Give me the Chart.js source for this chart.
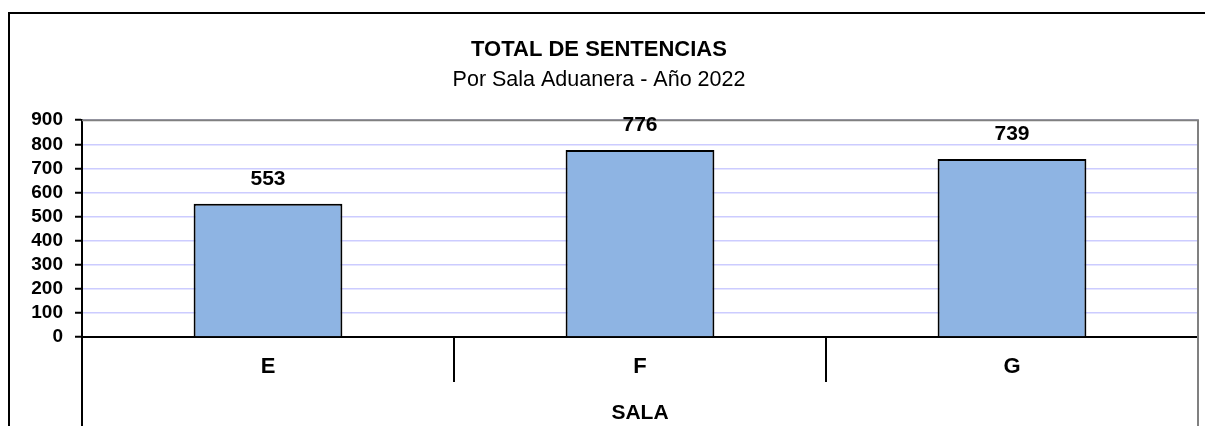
<!DOCTYPE html>
<html>
<head>
<meta charset="utf-8">
<script src="https://cdn.jsdelivr.net/npm/chart.js@4"></script>
<style>
    html, body { margin: 0; padding: 0; background: #fff; }
    #wrap { width: 1205px; height: 426px; }
</style>
</head>
<body>
<div id="wrap"><canvas id="myChart"></canvas></div>
<script>
const salas = ['E', 'F', 'G'];
const sentencias = [553, 776, 739];
const yTicks = [0, 100, 200, 300, 400, 500, 600, 700, 800, 900];

const FONT = "'Liberation Sans', Arial, sans-serif";

// frame, separators under the axis and the value labels
const extras = {
    id: 'extras',
    afterDraw(chart) {
        const ctx = chart.ctx;
        const area = chart.chartArea;
        const x = chart.scales.x;
        const H = chart.height;
        ctx.save();
        ctx.strokeStyle = '#000';
        ctx.lineWidth = 2;
        ctx.beginPath();
        ctx.moveTo(9, H);
        ctx.lineTo(9, 13);
        ctx.lineTo(chart.width, 13);
        ctx.stroke();

        ctx.beginPath();
        ctx.moveTo(area.left, area.bottom);
        ctx.lineTo(area.left, H);
        for (let i = 0; i < salas.length - 1; i++) {
            const bx = (x.getPixelForValue(i) + x.getPixelForValue(i + 1)) / 2;
            ctx.moveTo(bx, area.bottom);
            ctx.lineTo(bx, area.bottom + 45);
        }
        ctx.stroke();

        ctx.strokeStyle = '#808080';
        ctx.beginPath();
        ctx.moveTo(area.left, area.top);
        ctx.lineTo(area.right, area.top);
        ctx.lineTo(area.right, H);
        ctx.stroke();

        ctx.fillStyle = '#000';
        ctx.font = 'bold 21px ' + FONT;
        ctx.textAlign = 'center';
        ctx.textBaseline = 'middle';
        chart.getDatasetMeta(0).data.forEach(function (bar, i) {
            ctx.fillText(sentencias[i], bar.x, bar.y - 25);
        });
        ctx.restore();
    }
};

const ctx = document.getElementById('myChart').getContext('2d');
new Chart(ctx, {
    type: 'bar',
    data: {
        labels: salas,
        datasets: [{
            label: 'Sentencias',
            data: sentencias,
            backgroundColor: '#8EB4E3',
            borderColor: '#000',
            borderWidth: 2,
            barPercentage: 0.4,
            categoryPercentage: 1
        }]
    },
    options: {
        responsive: true,
        maintainAspectRatio: false,
        animation: false,
        layout: { padding: { left: 0, right: 7, top: 0, bottom: 0 } },
        plugins: {
            legend: { display: false },
            tooltip: { enabled: false },
            title: {
                display: true,
                text: 'TOTAL DE SENTENCIAS',
                color: '#000',
                font: { family: FONT, size: 22, weight: 'bold' },
                padding: { top: 37, bottom: 0 }
            },
            subtitle: {
                display: true,
                text: 'Por Sala Aduanera - Año 2022',
                color: '#000',
                font: { family: FONT, size: 21.5, weight: 'normal' },
                padding: { top: 4, bottom: 27 }
            }
        },
        scales: {
            x: {
                grid: { display: false, drawTicks: false },
                border: { display: true, color: '#000', width: 2 },
                ticks: {
                    color: '#000',
                    padding: 17,
                    font: { family: FONT, size: 22, weight: 'bold' }
                },
                title: {
                    display: true,
                    text: 'SALA',
                    color: '#000',
                    font: { family: FONT, size: 21, weight: 'bold' },
                    padding: { top: 0, bottom: 0 }
                },
                afterFit(scale) { scale.height = 89; }
            },
            y: {
                min: yTicks[0],
                max: yTicks[yTicks.length - 1],
                afterBuildTicks(scale) {
                    scale.ticks = yTicks.map(v => ({ value: v }));
                },
                grid: {
                    color: '#CCCCFF',
                    lineWidth: 1.5,
                    tickColor: '#000',
                    tickWidth: 2,
                    tickLength: 7
                },
                border: { display: true, color: '#000', width: 2 },
                ticks: {
                    color: '#000',
                    padding: 12,
                    autoSkip: false,
                    font: { family: FONT, size: 19, weight: 'bold' }
                },
                afterFit(scale) { scale.width = 82; }
            }
        }
    },
    plugins: [extras]
});
</script>
</body>
</html>
